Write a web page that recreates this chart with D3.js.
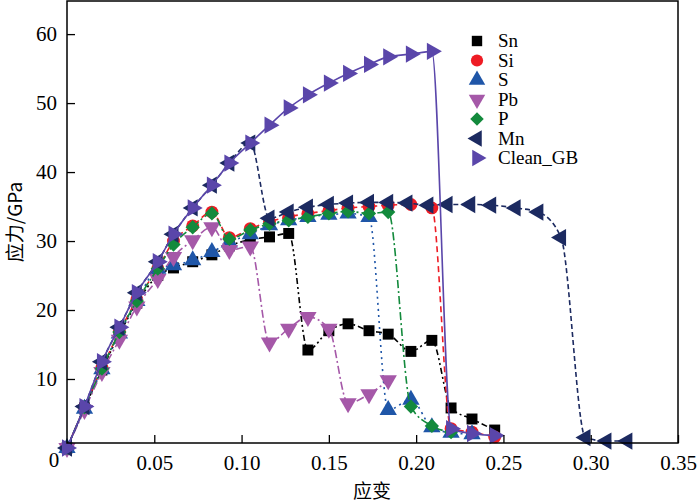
<!DOCTYPE html>
<html><head><meta charset="utf-8">
<script src="https://cdn.jsdelivr.net/npm/d3@7"></script>
<style>body{margin:0;background:#fff}</style>
</head><body><svg id="c" width="700" height="504"></svg>
<script>
const grid = [0,0.010,0.020,0.030,0.040,0.052,0.061,0.072,0.083,0.093,0.105,0.116,0.127,0.138,0.150,0.161,0.173,0.184,0.197,0.209,0.220,0.232,0.245];
const snY = [0,5.8,11.3,16.5,21,25,26.1,27,28,29.3,30.2,30.6,31.1,14.2,17,18,17,16.5,14,15.6,5.8,4.2,2.6];
const siY = [0,5.9,11.6,16.8,21.5,26,30,32.2,34.2,30.5,31.8,32.8,33.5,34,34.4,34.8,35,35.2,35.3,34.8,2.8,2.3,1.6];
const sY  = [0,5.7,11.4,16.6,21.3,26,26.5,27.2,28.4,29.8,31,32.3,33,33.5,33.8,34,33.5,5.5,7,3.0,2.2,2.0];
const pbY = [0,5.5,11,15.7,20.5,24.5,27.7,30.1,32,28.7,29.2,15.3,17.3,19,17.3,6.5,7.8,9.8];
const pY  = [0,5.9,11.5,16.8,21.3,26,29.5,32,34,30.3,31.6,32.5,33,33.5,34,34.3,34,34.2,6,3.2,2.3];
const mnX = [0,0.010,0.020,0.030,0.040,0.052,0.061,0.072,0.083,0.093,0.105,0.116,0.127,0.138,0.150,0.161,0.173,0.184,0.195,0.207,0.218,0.231,0.243,0.257,0.270,0.283,0.297,0.309,0.321];
const mnY = [0,6,12.5,17.5,22.5,27,31,34.8,38.1,41.3,44.2,33.3,34.2,34.9,35.3,35.5,35.6,35.6,35.5,35.2,35.3,35.3,35.2,34.8,34.2,30.5,1.5,1.0,1.0];
const cleanY = [0,6,12.5,17.5,22.5,27,31,34.8,38.1,41.3,44.2,46.8,49.3,51.2,52.9,54.3,55.6,56.7,57.1,57.5,2.8,2.1,1.8];
const names = ["Sn","Si","S","Pb","P","Mn","Clean_GB"];
const xTicks = [0.05,0.10,0.15,0.20,0.25,0.30,0.35];
const yTicks = [10,20,30,40,50,60];

const svg = d3.select("#c");
const x = d3.scaleLinear().domain([0,0.35]).range([67,678]);
const y = d3.scaleLinear().domain([0.72,64.8]).range([443,1]);

const series = [
  {name:"Sn", xs:grid, ys:snY, color:"#000000", dash:"6,3,2,3,2,3", sym:d3.symbolSquare, size:120, rot:0},
  {name:"Si", xs:grid, ys:siY, color:"#ee1c24", dash:"6,4", sym:d3.symbolCircle, size:130, rot:0},
  {name:"S", xs:grid, ys:sY, color:"#1f56a8", dash:"2,4", sym:d3.symbolTriangle, size:130, rot:0},
  {name:"Pb", xs:grid, ys:pbY, color:"#a558a8", dash:"8,3,2,3", sym:d3.symbolTriangle, size:130, rot:180},
  {name:"P", xs:grid, ys:pY, color:"#138a3c", dash:"8,3,2,3", sym:d3.symbolDiamond2, size:130, rot:0},
  {name:"Mn", xs:mnX, ys:mnY, color:"#1c2a60", dash:"5,3", sym:d3.symbolTriangle, size:130, rot:-90},
  {name:"Clean_GB", xs:grid, ys:cleanY, color:"#5a46aa", dash:null, sym:d3.symbolTriangle, size:130, rot:90}
];

series.forEach(s=>{
  const pts = s.ys.map((v,i)=>[s.xs[i],v]);
  const line = d3.line().x(d=>x(d[0])).y(d=>y(d[1])).curve(d3.curveMonotoneX);
  svg.append("path").attr("d",line(pts)).attr("fill","none").attr("stroke",s.color)
    .attr("stroke-width",1.6).attr("stroke-dasharray",s.dash);
  svg.append("g").selectAll("path").data(pts).join("path")
    .attr("d",d3.symbol(s.sym,s.size))
    .attr("transform",d=>`translate(${x(d[0])},${y(d[1])}) rotate(${s.rot})`)
    .attr("fill",s.color);
});

svg.append("rect").attr("x",67).attr("y",1).attr("width",611).attr("height",442)
  .attr("fill","none").attr("stroke","#000").attr("stroke-width",1.5);
const ax = svg.append("g").attr("transform","translate(0,443)")
  .call(d3.axisBottom(x).tickValues(xTicks).tickSize(-8).tickPadding(12).tickFormat(d3.format(".2f")));
const ay = svg.append("g").attr("transform","translate(67,0)")
  .call(d3.axisLeft(y).tickValues(yTicks).tickSize(-8).tickPadding(10).tickFormat(d3.format("d")));
[ax,ay].forEach(a=>{a.select(".domain").remove();
  a.selectAll("line").attr("stroke","#000").attr("stroke-width",1.3);
  a.selectAll("text").attr("font-family","Liberation Serif").attr("font-size",21).attr("fill","#000");});
svg.append("text").attr("x",54).attr("y",467).attr("text-anchor","middle")
  .attr("font-family","Liberation Serif").attr("font-size",21).text("0");

svg.append("text").attr("x",372).attr("y",498).attr("text-anchor","middle")
  .attr("font-family","Noto Sans CJK SC").attr("font-size",19).text("应变");
svg.append("text").attr("transform","translate(22,222) rotate(-90)").attr("text-anchor","middle")
  .attr("font-family","Noto Sans CJK SC, Liberation Serif").attr("font-size",19).text("应力/GPa");

const lg = svg.append("g");
series.forEach((s,i)=>{
  const yy = 41 + i*19.5;
  lg.append("path").attr("d",d3.symbol(s.sym,s.size*0.9)).attr("fill",s.color)
    .attr("transform",`translate(477,${yy}) rotate(${s.rot})`);
  lg.append("text").attr("x",498).attr("y",yy+6).attr("font-family","Liberation Serif")
    .attr("font-size",19).text(s.name);
});
</script></body></html>
